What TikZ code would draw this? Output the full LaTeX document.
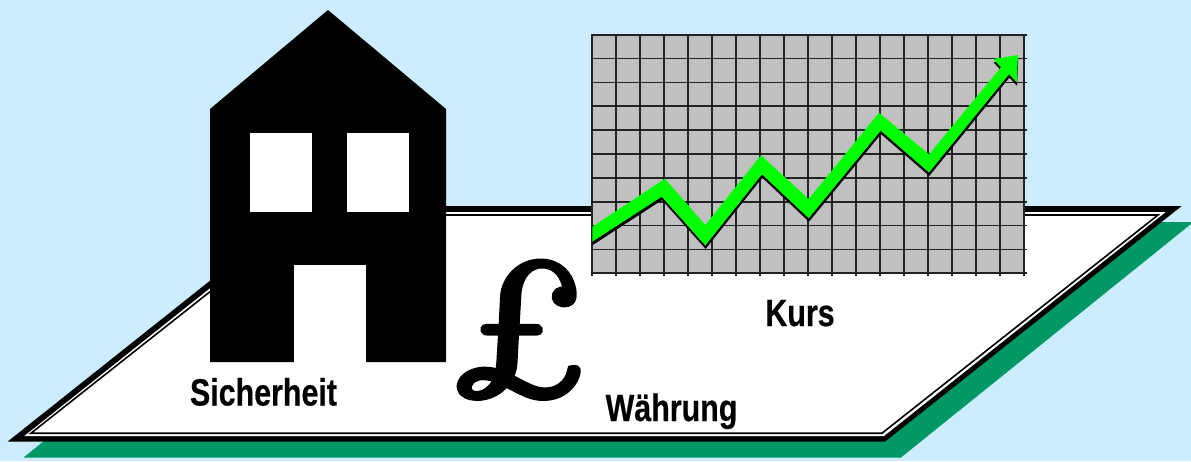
\documentclass[tikz,border=0pt]{standalone}
\usepackage{fontspec}
\setsansfont{Liberation Sans}[BoldFeatures={FakeBold=0.5}]
\newfontfamily\poundfont{lmroman10-italic}[Extension=.otf,FakeBold=3,FakeSlant=-0.2]
\definecolor{skybg}{HTML}{CCECFF}
\definecolor{shadowgreen}{HTML}{009966}
\definecolor{chartgrey}{HTML}{C0C0C0}
\definecolor{gridline}{HTML}{222222}
\definecolor{arrowgreen}{HTML}{00FF00}
\tikzset{
  lbl/.style={anchor=base,inner sep=0pt,font=\sffamily\bfseries\fontsize{28.5}{30}\selectfont},
  gridl/.style={draw=gridline,line width=1.35pt},
}
\newcommand{\narrowtext}[1]{\scalebox{.8}[1]{#1}}
\begin{document}
\begin{tikzpicture}[x=0.75pt,y=-0.75pt]
\useasboundingbox (0,0) rectangle (1191,461);
\fill[skybg] (0,0) rectangle (1191,461);
% plane
\fill[shadowgreen] (23.3,457.7) -- (900.7,457.7) -- (1191,224) -- (1191,222) -- (1000,222) -- (43,441.7) -- cycle;
\fill[black] (7.5,441.7) -- (885,441.7) -- (1181.7,206) -- (304,206) -- cycle;
\fill[white] (24.3,436) -- (884,436) -- (1165.7,212) -- (306,212) -- cycle;
\draw[black,line width=1.2pt] (31,433.2) -- (882,433.2) -- (1158,215) -- (307,215) -- cycle;
% house
\fill[black] (328,10) -- (446,109) -- (446,362) -- (366,362) -- (366,265) -- (294,265) -- (294,362) -- (210,362) -- (210,109) -- cycle;
\fill[white] (294,265) rectangle (366,362);
\fill[white] (250,133) rectangle (312,212);
\fill[white] (347,133) rectangle (409,212);
% chart
\fill[chartgrey] (592.3,34.7) rectangle (1024.3,273.3);
\foreach \i in {0,...,18} \draw[gridl] ({592.3+24*\i},34.7) -- ({592.3+24*\i},275.7);
\foreach \j in {0,...,10} \draw[gridl] (592.3,{34.7+23.86*\j}) -- (1027,{34.7+23.86*\j});
\draw[gridl] (592.3,34.7) rectangle (1024.3,273.3);
% rising arrow
\def\arrowpath{(592.3,226.7) -- (665,178.7) -- (705.3,225) -- (761,155.3) -- (808.7,199) -- (879,112.7) -- (929,154.3) -- (1001,67.3) -- (993.3,59) -- (1018,55) -- (1016.7,82.3) -- (1009,74.3) -- (929,172.5) -- (880.7,130.7) -- (808.7,218.3) -- (762,174.3) -- (705.3,245.5) -- (661.7,196.7) -- (592.3,241.7) -- cycle}
\begin{scope}
\clip (592.3,0) rectangle (1191,461);
\fill[black,shift={(0.3,3.4)}] \arrowpath;
\end{scope}
\fill[arrowgreen] \arrowpath;
% labels
\node[lbl] (kurs) at (800,326) {\narrowtext{Kurs}};
\node[lbl] (sicherheit) at (263.5,405.5) {\narrowtext{Sicherheit}};
\node[lbl] (waehrung) at (671.5,421) {\narrowtext{Währung}};
\node[anchor=base,inner sep=0pt] (pound) at (528,396) {\scalebox{1.17}[1]{\fontsize{143}{143}\selectfont\poundfont £}};
\end{tikzpicture}
\end{document}
